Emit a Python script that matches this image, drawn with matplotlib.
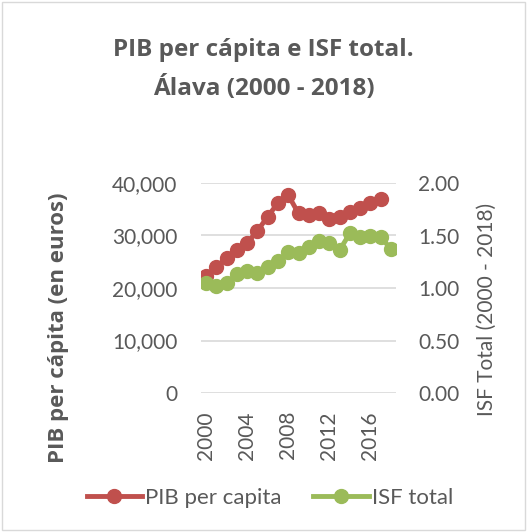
import matplotlib.pyplot as plt
from matplotlib.patches import Rectangle
import numpy as np

years = list(range(2000, 2019))
pib = [22300, 24000, 25800, 27200, 28600, 30900, 33600, 36200, 37700,
       34200, 33900, 34200, 33100, 33600, 34500, 35200, 36100, 37000]
isf = [1.05, 1.02, 1.05, 1.13, 1.16, 1.14, 1.20, 1.26, 1.34, 1.33,
       1.39, 1.45, 1.43, 1.36, 1.52, 1.49, 1.50, 1.49, 1.37]
xticks = [2000, 2004, 2008, 2012, 2016]

red = '#C0504D'
green = '#9BBB59'
grey = '#595959'
bold_font = ['Open Sans', 'DejaVu Sans']

plt.rcParams['font.family'] = ['Lato', 'DejaVu Sans']

fig = plt.figure(figsize=(5.27, 5.32), dpi=100)
fig.patches.append(Rectangle((0.004, 0.004), 0.992, 0.992, transform=fig.transFigure,
                             fill=False, edgecolor='#D9D9D9', lw=1))

ax = fig.add_axes([201/527, 1-393/532, 195/527, 210/532])
ax2 = ax.twinx()

x = np.arange(len(years))
l1, = ax.plot(x[:len(pib)], pib, color=red, lw=3.5, marker='o', ms=10, label='PIB per capita')
l2, = ax2.plot(x, isf, color=green, lw=3.5, marker='o', ms=10, label='ISF total')

ax.set_xlim(-0.5, len(years) - 0.5)
ax.set_ylim(0, 40000)
ax.set_yticks(range(0, 40001, 10000))
ax.set_yticklabels([f'{v:,}' for v in range(0, 40001, 10000)])
ax2.set_ylim(0, 2)
ax2.set_yticks([0, 0.5, 1, 1.5, 2])
ax2.set_yticklabels(['0.00', '0.50', '1.00', '1.50', '2.00'])
ax.set_xticks([years.index(y) for y in xticks])
ax.set_xticklabels([str(y) for y in xticks], rotation=90)

ax.grid(axis='y', color='#D9D9D9', lw=1.2)
ax.set_axisbelow(True)
for a in (ax, ax2):
    for s in a.spines.values():
        s.set_visible(False)
    a.tick_params(length=0, labelsize=15, colors=grey)
ax.tick_params(axis='y', pad=17)
ax2.tick_params(axis='y', pad=16)
ax.tick_params(axis='x', pad=13)

ax.set_ylabel('PIB per cápita (en euros)', fontsize=16, fontweight='bold', color=grey,
              family=bold_font)
ax.yaxis.set_label_coords(-0.675, 0.31)
ax2.set_ylabel('ISF Total (2000 - 2018)', fontsize=15, color=grey)
ax2.yaxis.set_label_coords(1.415, 0.40)

fig.text(0.5, 1-50/532, 'PIB per cápita e ISF total.', ha='center', va='center',
         fontsize=17.5, fontweight='bold', color=grey, family=bold_font)
fig.text(0.5, 1-88/532, 'Álava (2000 - 2018)', ha='center', va='center',
         fontsize=17.5, fontweight='bold', color=grey, family=bold_font)

fig.legend(handles=[l1, l2], loc='center', bbox_to_anchor=(0.512, 1-498/532),
           ncol=2, frameon=False, handlelength=2.5, columnspacing=1.4,
           handletextpad=0.15, labelcolor=grey, prop={'size': 16})

fig.savefig('out.png', dpi=100)
